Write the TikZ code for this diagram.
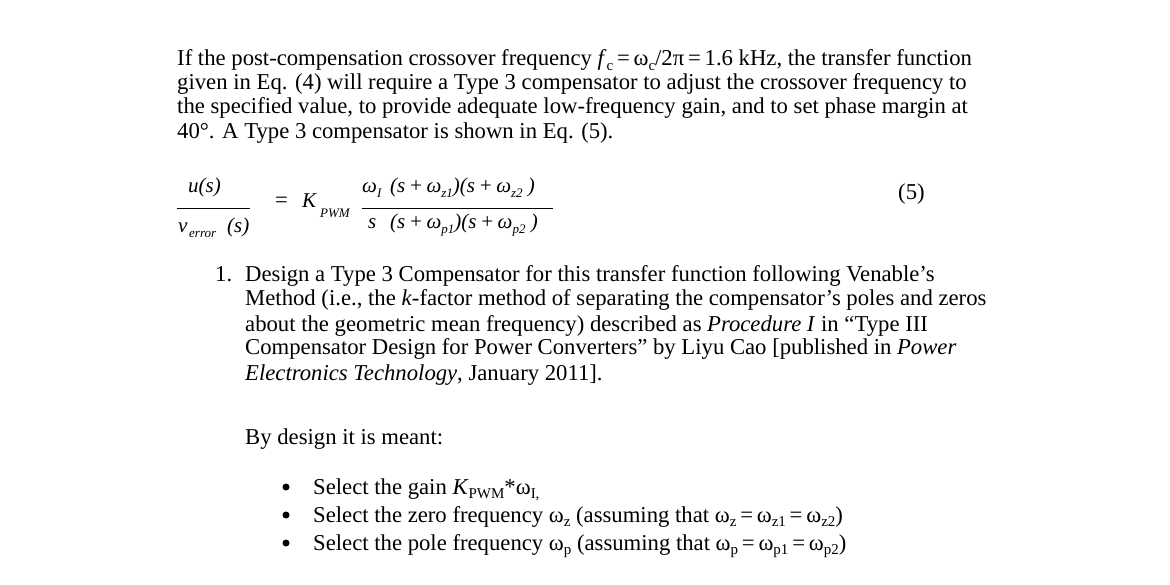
\documentclass[tikz,border=0pt]{standalone}
\usepackage{fontspec}
\setmainfont{Liberation Serif}
\newcommand{\sbx}[1]{\raisebox{-0.2em}{\fontsize{15}{15}\selectfont #1}}
\newcommand{\esb}[1]{\raisebox{-0.2em}{\fontsize{13}{13}\selectfont #1}}
\begin{document}
\begin{tikzpicture}[x=1pt,y=-1pt,
  t/.style={anchor=base west,inner sep=0pt,font=\fontsize{22.7}{24}\selectfont},
  e/.style={anchor=base west,inner sep=0pt,font=\fontsize{21}{24}\selectfont\itshape},
  sm/.style={anchor=base west,inner sep=0pt,font=\fontsize{13}{13}\selectfont\itshape}]
\useasboundingbox (0,0) rectangle (1170,585);
\fill[white] (0,0) rectangle (1170,585);
\node[t] (l1) at (177,66) {If the post-compensation crossover frequency \textit{f}\sbx{c}\,=\,ω\sbx{c}/2π\,=\,1.6 kHz, the transfer function};
\node[t] (l2) at (177,90) {given in Eq. (4) will require a Type 3 compensator to adjust the crossover frequency to};
\node[t] (l3) at (177,114) {the specified value, to provide adequate low-frequency gain, and to set phase margin at};
\node[t] (l4) at (177,139) {40°. A Type 3 compensator is shown in Eq. (5).};
% equation
\node[e] (num1) at (188,193) {u(s)};
\draw (177,208) -- (250,208);
\node[e] (v) at (178,233) {v};
\node[sm] (err) at (189,238) {error};
\node[e] (s1) at (227,233) {(s)};
\node[t] (eq) at (275,208) {=};
\node[e] (K) at (302,208) {K};
\node[sm] (pwm) at (320,218) {PWM};
\node[e] (wI) at (362,193) {ω\esb{I}};
\node[e] (num2) at (390,193) {(s\,+\,ω\esb{z1})(s\,+\,ω\esb{z2} )};
\draw (362,208) -- (553,208);
\node[e] (den) at (368,229) {s};
\node[e] (den2) at (390,229) {(s\,+\,ω\esb{p1})(s\,+\,ω\esb{p2} )};
\node[t] (n5) at (898,200) {(5)};
% list
\node[t] (one) at (215,282) {1.};
\node[t] (a1) at (245,282) {Design a Type 3 Compensator for this transfer function following Venable’s};
\node[t] (a2) at (245,306) {Method (i.e., the \textit{k}-factor method of separating the compensator’s poles and zeros};
\node[t] (a3) at (245,331) {about the geometric mean frequency) described as \textit{Procedure I} in “Type III};
\node[t] (a4) at (245,355) {Compensator Design for Power Converters” by Liyu Cao [published in \textit{Power}};
\node[t] (a5) at (245,380) {\textit{Electronics Technology}, January 2011].};
\node[t] (b) at (245,444) {By design it is meant:};
\foreach \y/\n in {494/b1,522/b2,550/b3}{\node[anchor=center,circle,fill=black,inner sep=0pt,minimum size=7pt] (d\n) at (286,\y-7) {};}
\node[t] (b1) at (313,494) {Select the gain \textit{K}\sbx{PWM}*ω\sbx{I,}};
\node[t] (b2) at (313,522) {Select the zero frequency ω\sbx{z} (assuming that ω\sbx{z}\,=\,ω\sbx{z1}\,=\,ω\sbx{z2})};
\node[t] (b3) at (313,550) {Select the pole frequency ω\sbx{p} (assuming that ω\sbx{p}\,=\,ω\sbx{p1}\,=\,ω\sbx{p2})};
\end{tikzpicture}
\end{document}
